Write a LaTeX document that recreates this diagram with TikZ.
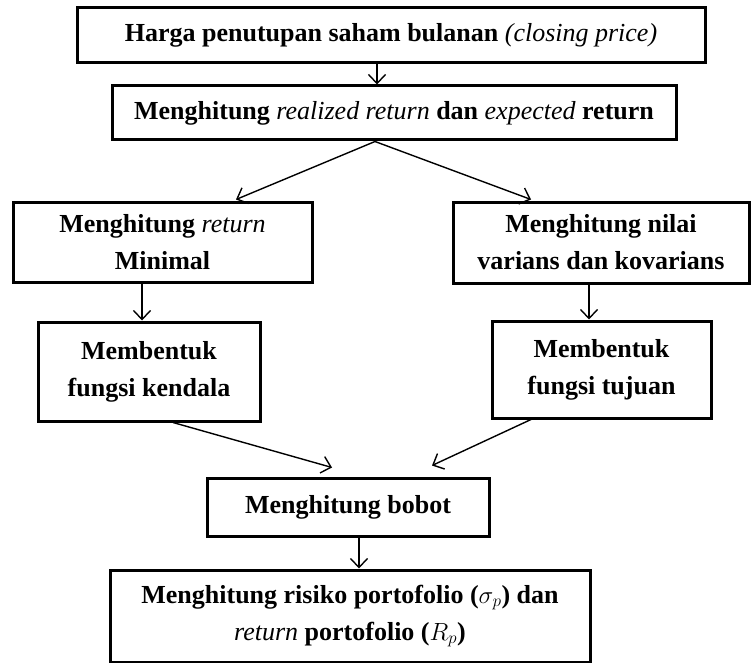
\documentclass[tikz,border=0pt]{standalone}
\usepackage{fontspec}
\setmainfont{Liberation Serif}
\usepackage{tikz}
\usetikzlibrary{arrows.meta,calc}
\newcommand{\ital}[1]{{\mdseries\itshape #1}}

\begin{document}
\begin{tikzpicture}[x=1pt,y=-1pt,
    kotak/.style={draw, line width=3pt, align=center, inner sep=2pt,
        font=\fontsize{26}{37}\selectfont\bfseries},
    panah/.style={-{Straight Barb[length=9pt,width=17pt]}, line width=1.4pt}]
            \useasboundingbox (0,0) rectangle (754,663);
            \node[kotak, minimum width=628, minimum height=55] at (391,35.5) (harga) {Harga penutupan saham bulanan \ital{(closing price)}};
            \node[kotak, minimum width=564, minimum height=54] at (394,113) (hitung) {Menghitung \ital{realized return} dan \ital{expected} return};
            \node[kotak, minimum width=299, minimum height=80] at (162.5,242) (retmin) {Menghitung \ital{return}\\Minimal};
            \node[kotak, minimum width=296, minimum height=81] at (601,242.5) (varkov) {Menghitung nilai\\varians dan kovarians};
            \node[kotak, minimum width=222, minimum height=99] at (149,371.5) (kendala) {Membentuk\\fungsi kendala};
            \node[kotak, minimum width=219, minimum height=97] at (601.5,369.5) (tujuan) {Membentuk\\fungsi tujuan};
            \node[kotak, minimum width=282, minimum height=58] at (348,507) (bobot) {Menghitung bobot};
            \node[kotak, minimum width=480, minimum height=92] at (350,616) (risiko) {Menghitung risiko portofolio (\(\sigma_p\)) dan\\\ital{return} portofolio (\(R_p\))};
            \draw[panah] ([xshift=-14pt]harga.south) -- ([xshift=-17pt]hitung.north);
            \draw[panah] ([xshift=-19pt]hitung.south) -- ([xshift=73.5pt,yshift=1pt]retmin.north);
            \draw[panah] ([xshift=-19pt]hitung.south) -- ([xshift=-70pt,yshift=1pt]varkov.north);
            \draw[panah] ([xshift=-20.5pt]retmin.south) -- ([xshift=-7pt]kendala.north);
            \draw[panah] ([xshift=-12pt]varkov.south) -- ([xshift=-12.5pt]tujuan.north);
            \draw[panah] ([xshift=24pt]kendala.south) -- ([xshift=-16pt,yshift=9pt]bobot.north);
            \draw[panah] ([xshift=-70.5pt]tujuan.south) -- ([xshift=84pt,yshift=11pt]bobot.north);
            \draw[panah] ([xshift=11pt]bobot.south) -- ([xshift=9pt]risiko.north);
        \end{tikzpicture}
\end{document}
